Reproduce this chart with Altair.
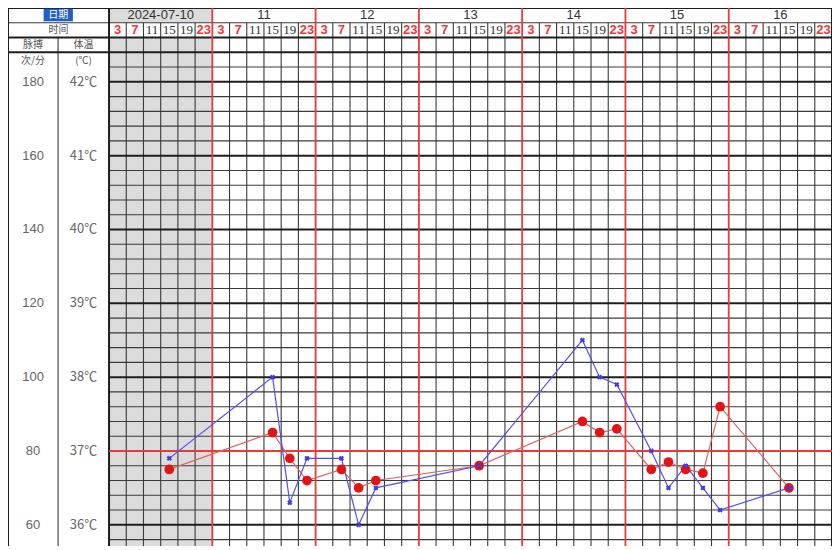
import altair as alt
import pandas as pd
import numpy as np

# ---------------- data ----------------
days = ["2024-07-10", "11", "12", "13", "14", "15", "16"]
slot_hours = [3, 7, 11, 15, 19, 23]
pulse_ticks = [180, 160, 140, 120, 100, 80, 60]
temp_ticks = [42, 41, 40, 39, 38, 37, 36]

t_day = [0, 1, 1, 1, 2, 2, 2, 3, 4, 4, 4, 5, 5, 5, 5, 5, 6]
t_hour = [15, 15, 19, 23, 7, 11, 15, 15, 15, 19, 23, 7, 11, 15, 19, 23, 15]
temp = [36.75, 37.25, 36.9, 36.6, 36.75, 36.5, 36.6, 36.8, 37.4, 37.25, 37.3,
        36.75, 36.85, 36.75, 36.7, 37.6, 36.5]

p_day = [0, 1, 1, 1, 2, 2, 2, 3, 4, 4, 4, 5, 5, 5, 5, 5, 6]
p_hour = [15, 15, 19, 23, 7, 11, 15, 15, 15, 19, 23, 7, 11, 15, 19, 23, 15]
pulse = [78, 100, 66, 78, 78, 60, 70, 76, 110, 100, 98, 80, 70, 76, 70, 64, 70]

# ---------------- layout (in scale units: x = 4h slots, y = degC) ----------------
NS = len(days) * len(slot_hours)   # 42 slots
X0, XSEP = -5.87, -2.96
XP, XT = (X0 + XSEP) / 2, XSEP / 2
Y_TOP, Y_DATE, Y_TIME, Y_H2 = 43.0, 42.8, 42.6, 42.4
Y_BOT = 35.713

RED = "#e83a3a"
GRID = "#3a3a3a"

xscale = alt.Scale(domain=[X0, NS], nice=False, zero=False)
yscale = alt.Scale(domain=[Y_BOT, Y_TOP], nice=False, zero=False)
X = lambda f: alt.X(f, type="quantitative", scale=xscale, axis=None)
Y = lambda f: alt.Y(f, type="quantitative", scale=yscale, axis=None)

def slot_x(d, h):
    return d * len(slot_hours) + slot_hours.index(h) + 0.5

tdf = pd.DataFrame({"x": [slot_x(d, h) for d, h in zip(t_day, t_hour)], "y": temp,
                    "order": range(len(temp))})
pdf = pd.DataFrame({"x": [slot_x(d, h) for d, h in zip(p_day, p_hour)], "pulse": pulse,
                    "order": range(len(pulse))})
pdf["y"] = 36 + (pdf["pulse"] - 60) / 20.0

# ---------------- grid segments ----------------
thin, thick, red = [], [], []
levels = np.round(np.arange(35.8, 42.61, 0.2), 1)
for v in levels:
    if abs(v - 37) < 1e-6:
        continue
    if abs(v - round(v)) < 1e-6 or v in (42.6, 42.4):
        thick.append((0, NS, v, v))
    else:
        thin.append((0, NS, v, v))
for s in range(1, NS):
    if s % len(slot_hours) == 0:
        red.append((s, s, Y_BOT, Y_TOP))
    else:
        thin.append((s, s, Y_BOT, Y_DATE))
thin.append((X0, NS, Y_DATE, Y_DATE))
thick.append((X0, 0, Y_TIME, Y_TIME))
thick.append((X0, 0, Y_H2, Y_H2))
thick.append((X0, NS, Y_TOP, Y_TOP))
thick.append((0, 0, Y_BOT, Y_TOP))
thick.append((NS, NS, Y_BOT, Y_TOP))
thick.append((X0, X0, Y_BOT, Y_TOP))
thin.append((XSEP, XSEP, Y_BOT, Y_TIME))
red.append((0, NS, 37, 37))

rows = []
for lst, c, w in ((thin, GRID, 1.1), (thick, "#1e1e1e", 2.0), (red, RED, 1.8)):
    for (a, b, c1, c2) in lst:
        rows.append({"x": a, "x2": b, "y": c1, "y2": c2, "c": c, "w": w})
gdf = pd.DataFrame(rows)

grid = alt.Chart(gdf).mark_rule().encode(
    x=X("x"), x2="x2", y=Y("y"), y2="y2",
    color=alt.Color("c:N", scale=None),
    strokeWidth=alt.StrokeWidth("w:Q", scale=None),
)

# shaded first day
shade_df = pd.DataFrame({"x": [0, 0], "x2": [len(slot_hours)] * 2,
                         "y": [Y_BOT, Y_DATE], "y2": [Y_TIME, Y_TOP]})
shade = alt.Chart(shade_df).mark_rect(color="#dcdcdc").encode(
    x=X("x"), x2="x2", y=Y("y"), y2="y2")

# "日期" highlight
hl = alt.Chart(pd.DataFrame({"x": [-3.8], "x2": [-2.1], "y": [42.82], "y2": [42.99]})).mark_rect(
    color="#1f5fc8").encode(x=X("x"), x2="x2", y=Y("y"), y2="y2")

# ---------------- header texts ----------------
date_df = pd.DataFrame({"x": [d * len(slot_hours) + len(slot_hours) / 2 for d in range(len(days))],
                        "y": (Y_TOP + Y_DATE) / 2, "t": days})
date_txt = alt.Chart(date_df).mark_text(font="Liberation Sans", fontSize=13, color="#333",
                                        baseline="middle").encode(x=X("x"), y=Y("y"), text="t:N")

time_rows = []
for d in range(len(days)):
    for k, h in enumerate(slot_hours):
        time_rows.append({"x": d * len(slot_hours) + k + 0.5, "y": (Y_DATE + Y_TIME) / 2,
                          "t": str(h), "hl": h in (3, 7, 23)})
time_df = pd.DataFrame(time_rows)
time_red = alt.Chart(time_df[time_df.hl]).mark_text(
    font="Liberation Sans", fontSize=13, fontWeight="bold", color="#e83a3a",
    baseline="middle").encode(x=X("x"), y=Y("y"), text="t:N")
time_blk = alt.Chart(time_df[~time_df.hl]).mark_text(
    font="Liberation Sans Narrow", fontSize=13, color="#333",
    baseline="middle").encode(x=X("x"), y=Y("y"), text="t:N")

left_df = pd.DataFrame({
    "x": [(X0 + 0) / 2, XP, XT, XP, XT],
    "y": [(Y_DATE + Y_TIME) / 2, (Y_TIME + Y_H2) / 2, (Y_TIME + Y_H2) / 2, 42.28, 42.28],
    "t": ["时间", "脉搏", "体温", "次/分", "(℃)"],
})
left_txt = alt.Chart(left_df).mark_text(font="Noto Sans CJK SC", fontSize=10, color="#555",
                                        baseline="middle").encode(x=X("x"), y=Y("y"), text="t:N")
date_hdr = alt.Chart(pd.DataFrame({"x": [-2.95], "y": [(Y_TOP + Y_DATE) / 2], "t": ["日期"]})).mark_text(
    font="Noto Sans CJK SC", fontSize=10, color="white", baseline="middle").encode(
    x=X("x"), y=Y("y"), text="t:N")

tick_df = pd.DataFrame({"yv": temp_ticks, "p": [str(p) for p in pulse_ticks],
                        "t": [f"{t}℃" for t in temp_ticks], "xp": XP, "xt": XT})
ptick = alt.Chart(tick_df).mark_text(font="Liberation Sans", fontSize=13, color="#666",
                                     baseline="middle").encode(
    x=X("xp"), y=Y("yv"), text="p:N")
ttick = alt.Chart(tick_df).mark_text(font="Noto Sans CJK SC", fontSize=13, color="#666",
                                     baseline="middle").encode(
    x=X("xt"), y=Y("yv"), text="t:N")

# ---------------- series ----------------
t_line = alt.Chart(tdf).mark_line(color="#e06060", strokeWidth=1.2).encode(
    x=X("x"), y=Y("y"), order="order:Q")
p_line = alt.Chart(pdf).mark_line(color="#5050ee", strokeWidth=1.2).encode(
    x=X("x"), y=Y("y"), order="order:Q")
t_pts = alt.Chart(tdf).mark_point(shape="circle", filled=True, color="#e41414", size=95,
                                  opacity=1).encode(x=X("x"), y=Y("y"))
p_pts = alt.Chart(pdf).mark_point(shape="cross", angle=45, filled=True, color="#3c3ce6", size=28,
                                  opacity=1).encode(x=X("x"), y=Y("y"))

chart = alt.layer(
    shade, grid, hl, date_txt, time_red, time_blk, left_txt, date_hdr, ptick, ttick,
    t_line, p_line, t_pts, p_pts,
).properties(
    width=824, height=538, padding=0,
    autosize=alt.AutoSizeParams(type="none"),
    background="white",
).configure_view(stroke=None)

chart.save("out.html", embed_options={"renderer": "svg", "actions": False})
